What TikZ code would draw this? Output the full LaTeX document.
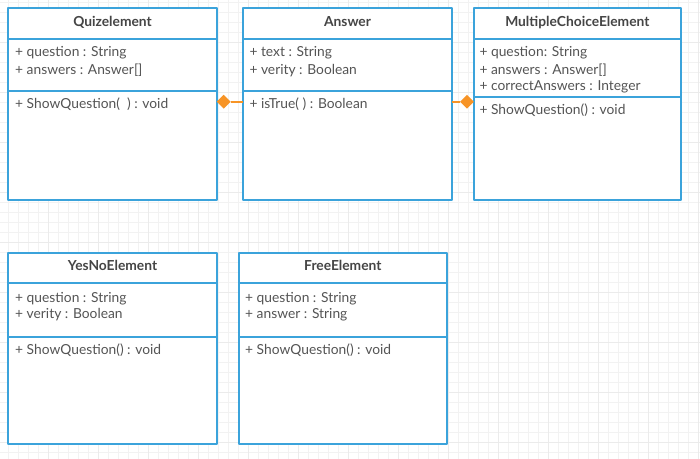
\documentclass[tikz,border=0pt]{standalone}
\usepackage{fontspec}
\setmainfont{Lato}
\usetikzlibrary{shapes.geometric}
\definecolor{ttaadd}{rgb}{0.23,0.64,0.86}
\definecolor{ffaaqq}{rgb}{0.97,0.58,0.15}
\definecolor{uuuuuu}{rgb}{0.27,0.27,0.27}
\definecolor{wwwwww}{rgb}{0.33,0.33,0.33}
\definecolor{eeeeee}{rgb}{0.95,0.95,0.95}
\definecolor{dddddd}{rgb}{0.92,0.92,0.92}

\begin{document}
\begin{tikzpicture}[line cap=round,line join=round,x=1pt,y=-1pt,
  umlbox/.style={draw=ttaadd,line width=2pt,fill=white,anchor=north west,inner sep=0pt,outer sep=0pt},
  divider/.style={draw=ttaadd,line width=2pt,line cap=butt},
  title/.style={text=uuuuuu,font=\fontsize{13.8}{16}\selectfont\bfseries,anchor=base,inner sep=0pt},
  member/.style={text=wwwwww,font=\fontsize{13.8}{16}\selectfont,anchor=base west,inner sep=0pt},
  agg/.style={diamond,fill=ffaaqq,inner sep=0pt,minimum width=14pt,minimum height=14pt},
  link/.style={draw=ffaaqq,line width=2pt,line cap=butt}]
\useasboundingbox (0,0) rectangle (700,458);
\fill[white] (0,0) rectangle (700,458);
\begin{scope}
\clip (0,0) rectangle (700,458);
\draw[eeeeee,line width=0.5pt,step=10pt,shift={(8,2.7)}] (-20,-20) grid (710,470);
\draw[dddddd,line width=0.5pt,step=50pt,shift={(48,42.7)}] (-60,-60) grid (710,470);
\end{scope}
% top row
\node[umlbox,minimum width=208.4pt,minimum height=191.7pt] (quiz) at (8.3,8.3) {};
\node[umlbox,minimum width=208.4pt,minimum height=191.7pt] (answer) at (243.3,8.3) {};
\node[umlbox,minimum width=206.7pt,minimum height=191.7pt] (mce) at (474,8.3) {};
\draw[divider] (quiz.west |- 0,38.5) -- (quiz.east |- 0,38.5);
\draw[divider] (quiz.west |- 0,90.7) -- (quiz.east |- 0,90.7);
\draw[divider] (answer.west |- 0,38.5) -- (answer.east |- 0,38.5);
\draw[divider] (answer.west |- 0,90.7) -- (answer.east |- 0,90.7);
\draw[divider] (mce.west |- 0,38.5) -- (mce.east |- 0,38.5);
\draw[divider] (mce.west |- 0,97.3) -- (mce.east |- 0,97.3);
\node[title] (quizname) at (quiz.north |- 0,26) {Quizelement};
\node[member] (quiza1) at (15,56.7) {+ question : String};
\node[member] (quiza2) at (15,74) {+ answers : Answer[]};
\node[member] (quizm1) at (15,108.3) {+ ShowQuestion(\ \ ) : void};
\node[title] (answername) at (answer.north |- 0,26) {Answer};
\node[member] (answera1) at (249.3,56.7) {+ text : String};
\node[member] (answera2) at (249.3,74) {+ verity : Boolean};
\node[member] (answerm1) at (249.3,108.3) {+ isTrue( ) : Boolean};
\node[title] (mcename) at (mce.north |- 0,26) {MultipleChoiceElement};
\node[member] (mcea1) at (479.3,56.7) {+ question: String};
\node[member] (mcea2) at (479.3,74) {+ answers : Answer[]};
\node[member] (mcea3) at (479.3,90.7) {+ correctAnswers : Integer};
\node[member] (mcem1) at (479.3,114.3) {+ ShowQuestion() : void};
% bottom row
\node[umlbox,minimum width=208.4pt,minimum height=191pt] (yesno) at (8.3,253.3) {};
\node[umlbox,minimum width=207.7pt,minimum height=191pt] (free) at (239,253.3) {};
\draw[divider] (yesno.west |- 0,283.3) -- (yesno.east |- 0,283.3);
\draw[divider] (yesno.west |- 0,336.7) -- (yesno.east |- 0,336.7);
\draw[divider] (free.west |- 0,283.3) -- (free.east |- 0,283.3);
\draw[divider] (free.west |- 0,336.7) -- (free.east |- 0,336.7);
\node[title] (yesnoname) at (yesno.north |- 0,270.7) {YesNoElement};
\node[member] (yesnoa1) at (15,302) {+ question : String};
\node[member] (yesnoa2) at (15,318.3) {+ verity : Boolean};
\node[member] (yesnom1) at (15,354) {+ ShowQuestion() : void};
\node[title] (freename) at (free.north |- 0,270.7) {FreeElement};
\node[member] (freea1) at (245,302) {+ question : String};
\node[member] (freea2) at (245,318.3) {+ answer : String};
\node[member] (freem1) at (245,354) {+ ShowQuestion() : void};
% aggregations
\node[agg] (d1) at (223.7,101.7) {};
\draw[link] (d1.east) -- (answer.west |- d1);
\node[agg] (d2) at (467,101.7) {};
\draw[link] (answer.east |- d2) -- (d2.west);
\end{tikzpicture}
\end{document}
